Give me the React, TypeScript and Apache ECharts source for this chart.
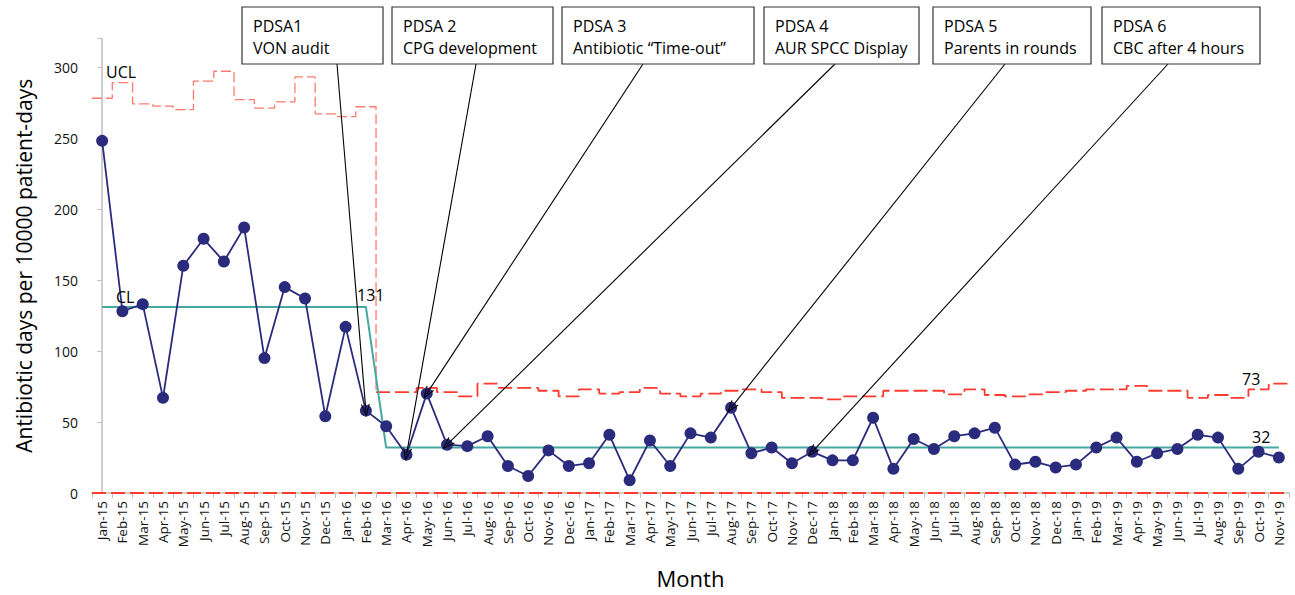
import React, { useEffect, useRef } from "react";
import * as echarts from "echarts";

const months = [
  "Jan-15","Feb-15","Mar-15","Apr-15","May-15","Jun-15","Jul-15","Aug-15","Sep-15","Oct-15","Nov-15","Dec-15",
  "Jan-16","Feb-16","Mar-16","Apr-16","May-16","Jun-16","Jul-16","Aug-16","Sep-16","Oct-16","Nov-16","Dec-16",
  "Jan-17","Feb-17","Mar-17","Apr-17","May-17","Jun-17","Jul-17","Aug-17","Sep-17","Oct-17","Nov-17","Dec-17",
  "Jan-18","Feb-18","Mar-18","Apr-18","May-18","Jun-18","Jul-18","Aug-18","Sep-18","Oct-18","Nov-18","Dec-18",
  "Jan-19","Feb-19","Mar-19","Apr-19","May-19","Jun-19","Jul-19","Aug-19","Sep-19","Oct-19","Nov-19",
];

const antibioticDays = [
  248, 128, 133, 67, 160, 179, 163, 187, 95, 145, 137, 54,
  117, 58, 47, 27, 70, 34, 33, 40, 19, 12, 30, 19,
  21, 41, 9, 37, 19, 42, 39, 60, 28, 32, 21, 29,
  23, 23, 53, 17, 38, 31, 40, 42, 46, 20, 22, 18,
  20, 32, 39, 22, 28, 31, 41, 39, 17, 29, 25,
];

const ucl = [
  278, 289, 274, 272.5, 270, 290, 297, 277, 271, 275.5, 293, 267,
  265, 272, 71, 71, 74, 71, 68, 77, 74, 74, 72, 68,
  73, 70, 71, 74, 70, 68, 70, 72, 73, 71, 67, 67,
  66, 68, 68, 72, 72, 72, 69.5, 73, 69, 68, 69.5, 71,
  72, 73, 73, 75.5, 72, 72, 67, 69, 67, 73, 77,
];

const clPhase1 = 131;
const clPhase2 = 32;
const phase1Months = 14; // Jan-15 .. Feb-16
const lcl = 0;

const yTicks = [0, 50, 100, 150, 200, 250, 300];

const pdsaTitles = ["PDSA1", "PDSA 2", "PDSA 3", "PDSA 4", "PDSA 5", "PDSA 6"];
const pdsaTexts = [
  "VON audit",
  "CPG development",
  "Antibiotic \u201cTime-out\u201d",
  "AUR SPCC Display",
  "Parents in rounds",
  "CBC after 4 hours",
];
const pdsaTargets = ["Feb-16", "Apr-16", "May-16", "Jun-16", "Aug-17", "Dec-17"];

const limitLabels = ["UCL", "CL", "131", "73", "32"];

// layout of the annotation boxes (pixels)
const boxLayout = [
  { l: 242, r: 383, ax: 337 },
  { l: 392, r: 553, ax: 476 },
  { l: 562, r: 754, ax: 643 },
  { l: 764, r: 919, ax: 835 },
  { l: 933, r: 1091, ax: 1005 },
  { l: 1102, r: 1260, ax: 1168 },
];
const BOX_TOP = 7;
const BOX_BOTTOM = 64;
const labelLayout = [
  { x: 106, y: 72 },
  { x: 116, y: 297 },
  { x: 357, y: 295 },
  { x: 1242, y: 379 },
  { x: 1252, y: 437 },
];

const FONT = "Open Sans";
const NAVY = "#2b2b7d";
const TEAL = "#45a9a2";
const RED = "#ff3b30";
const RED_LIGHT = "#ff7a6e";

export default function App() {
  const ref = useRef<HTMLDivElement>(null);

  useEffect(() => {
    if (!ref.current) return;
    const chart = echarts.init(ref.current, undefined, { renderer: "svg" });

    const n = months.length;
    const clData = months.map((_, i) => (i < phase1Months ? clPhase1 : clPhase2));

    const uclPhase1: number[][] = [];
    for (let i = 0; i < phase1Months; i++) {
      uclPhase1.push([i - 0.5, ucl[i]]);
      uclPhase1.push([i + 0.5, ucl[i]]);
    }
    uclPhase1.push([phase1Months - 0.5, ucl[phase1Months]]);
    const uclPhase2: number[][] = [];
    for (let i = phase1Months; i < n; i++) {
      uclPhase2.push([i - 0.5, ucl[i]]);
      uclPhase2.push([i + 0.5, ucl[i]]);
    }
    const lclData = [[-0.5, lcl], [n - 0.5, lcl]];

    const arrowSymbol = "path://M5,0 L10,11 L8.7,11 L5,2.8 L1.3,11 L0,11 Z";

    const graphics: any[] = [];
    boxLayout.forEach((b, i) => {
      graphics.push({
        type: "group",
        children: [
          {
            type: "rect",
            shape: { x: b.l, y: BOX_TOP, width: b.r - b.l, height: BOX_BOTTOM - BOX_TOP },
            style: { fill: "#fff", stroke: "#333", lineWidth: 1.2 },
            z: 20,
          },
          {
            type: "text",
            x: b.l + 11,
            y: 26,
            style: { text: pdsaTitles[i], font: `16px "${FONT}"`, fill: "#000", verticalAlign: "middle" },
            z: 21,
          },
          {
            type: "text",
            x: b.l + 11,
            y: 47.5,
            style: { text: pdsaTexts[i], font: `16px "${FONT}"`, fill: "#000", verticalAlign: "middle" },
            z: 21,
          },
        ],
      });
    });
    limitLabels.forEach((t, i) => {
      graphics.push({
        type: "text",
        x: labelLayout[i].x,
        y: labelLayout[i].y,
        style: { text: t, font: `16px "${FONT}"`, fill: "#000", verticalAlign: "middle" },
        z: 21,
      });
    });

    chart.setOption({
      animation: false,
      backgroundColor: "#fff",
      textStyle: { fontFamily: FONT },
      grid: { left: 92, right: 6, top: 38.6, bottom: 102, containLabel: false },
      xAxis: [
        {
          type: "category",
          data: months,
          boundaryGap: true,
          name: "Month",
          nameLocation: "middle",
          nameGap: 74,
          nameTextStyle: { fontSize: 22, color: "#000", fontFamily: FONT },
          axisLine: { lineStyle: { color: "#bfbfbf", width: 1.5 } },
          axisTick: { show: true, length: 5, lineStyle: { color: "#bfbfbf" } },
          axisLabel: { rotate: 90, interval: 0, fontSize: 13.5, color: "#111", margin: 8, fontFamily: FONT },
          splitLine: { show: false },
        },
        {
          type: "value",
          min: -0.5,
          max: n - 0.5,
          show: false,
          splitLine: { show: false },
        },
      ],
      yAxis: {
        type: "value",
        min: 0,
        max: 320,
        interval: 50,
        name: "Antibiotic days per 10000 patient-days",
        nameLocation: "middle",
        nameGap: 58,
        nameRotate: 90,
        nameTextStyle: { fontSize: 21, color: "#000", fontFamily: FONT },
        axisLine: { show: true, lineStyle: { color: "#bfbfbf", width: 1.5 } },
        axisTick: { show: true, length: 5, lineStyle: { color: "#bfbfbf" } },
        axisLabel: {
          fontSize: 14,
          color: "#111",
          margin: 14,
          fontFamily: FONT,
          formatter: (v: number) => (yTicks.includes(v) ? String(v) : ""),
        },
        splitLine: { show: false },
      },
      series: [
        {
          name: "LCL",
          type: "line",
          xAxisIndex: 1,
          data: lclData,
          symbol: "none",
          lineStyle: { color: RED, width: 2, type: [14, 5] },
          z: 2,
        },
        {
          name: "UCL phase 1",
          type: "line",
          xAxisIndex: 1,
          data: uclPhase1,
          symbol: "none",
          lineStyle: { color: RED_LIGHT, width: 1.3, type: [10, 4] },
          z: 2,
        },
        {
          name: "UCL phase 2",
          type: "line",
          xAxisIndex: 1,
          data: uclPhase2,
          symbol: "none",
          lineStyle: { color: RED, width: 1.8, type: [14, 5] },
          z: 2,
        },
        {
          name: "CL",
          type: "line",
          xAxisIndex: 0,
          data: clData,
          symbol: "none",
          lineStyle: { color: TEAL, width: 2 },
          z: 3,
        },
        {
          name: "Antibiotic days",
          type: "line",
          xAxisIndex: 0,
          data: antibioticDays,
          symbol: "circle",
          symbolSize: 12,
          itemStyle: { color: NAVY },
          lineStyle: { color: NAVY, width: 1.8 },
          z: 4,
        },
        {
          name: "PDSA",
          type: "line",
          xAxisIndex: 0,
          data: [],
          z: 10,
          markLine: {
            silent: true,
            animation: false,
            symbol: ["none", arrowSymbol],
            symbolSize: [9, 13],
            label: { show: false },
            lineStyle: { color: "#000", width: 1.1, type: "solid" },
            data: pdsaTargets.map((m, i) => [
              { x: boxLayout[i].ax, y: BOX_BOTTOM },
              { coord: [m, antibioticDays[months.indexOf(m)]] },
            ]),
          },
        },
      ],
      graphic: graphics,
    });

    return () => chart.dispose();
  }, []);

  return (
    <div
      ref={ref}
      style={{ position: "fixed", left: 0, top: 0, width: 1295, height: 595, background: "#fff" }}
    />
  );
}
